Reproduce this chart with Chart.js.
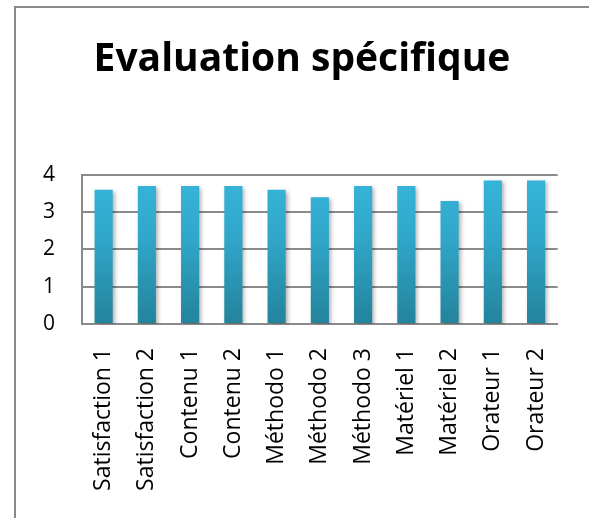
<!DOCTYPE html>
<html>
<head>
<meta charset="utf-8">
<script src="https://cdn.jsdelivr.net/npm/chart.js@4/dist/chart.umd.min.js"></script>
<style>
  html, body { margin: 0; padding: 0; background: #fff; overflow: hidden; }
  #frame {
    position: absolute; left: 14px; top: 6px; width: 600px; height: 540px;
    border-left: 2px solid #8a8a8a; border-top: 2px solid #8a8a8a;
  }
  canvas { position: absolute; left: 0; top: 0; }
</style>
</head>
<body>
<canvas id="myChart" width="589" height="518"></canvas>
<div id="frame"></div>
<script>
const chartTitle = "Evaluation spécifique";
const categories = ["Satisfaction 1", "Satisfaction 2", "Contenu 1", "Contenu 2", "Méthodo 1", "Méthodo 2", "Méthodo 3", "Matériel 1", "Matériel 2", "Orateur 1", "Orateur 2"];
const scores = [3.6, 3.7, 3.7, 3.7, 3.6, 3.4, 3.7, 3.7, 3.3, 3.85, 3.85];
const yTicks = [0, 1, 2, 3, 4];

// vertical gradient for the bars, like the office style
function barFill(context) {
    const area = context.chart.chartArea;
    if (!area) return "#2fa3c4";
    const g = context.chart.ctx.createLinearGradient(0, area.top, 0, area.bottom);
    g.addColorStop(0, "#36b5da");
    g.addColorStop(0.4, "#31a8cb");
    g.addColorStop(1, "#23839b");
    return g;
}

// soft shadow behind the bars
const barShadow = {
    id: "barShadow",
    beforeDatasetsDraw(chart) {
        const ctx = chart.ctx;
        ctx.save();
        ctx.shadowColor = "rgba(0,0,0,0.3)";
        ctx.shadowBlur = 4;
        ctx.shadowOffsetX = 2;
        ctx.shadowOffsetY = 2;
    },
    afterDatasetsDraw(chart) {
        chart.ctx.restore();
    }
};

// title is centred on the whole frame, not on the plot
const titleShift = {
    id: "titleShift",
    afterLayout(chart) {
        if (chart.titleBlock) {
            chart.titleBlock.left += 14;
            chart.titleBlock.right += 14;
        }
    }
};

let config = {
    type: "bar",
    data: {
        labels: categories,
        datasets: [{
            data: scores,
            backgroundColor: barFill,
            borderWidth: 0,
            categoryPercentage: 1,
            barPercentage: 0.42
        }]
    },
    options: {
        responsive: false,
        animation: false,
        layout: { padding: { left: 16, right: 29, top: 0, bottom: 0 } },
        plugins: {
            legend: { display: false },
            tooltip: { enabled: false },
            title: {
                display: true,
                text: chartTitle,
                color: "#000",
                font: { family: "Open Sans", size: 39, weight: "bold" },
                padding: { top: 36, bottom: 92 }
            }
        },
        scales: {
            x: {
                grid: { display: false, drawTicks: false },
                border: { display: true, color: "#8a8a8a", width: 2 },
                ticks: {
                    color: "#000",
                    font: { family: "Open Sans", size: 23 },
                    minRotation: 90,
                    maxRotation: 90,
                    padding: 24,
                    autoSkip: false
                },
                afterFit(scale) { scale.height = 194; }
            },
            y: {
                min: 0,
                max: 4,
                afterBuildTicks(scale) { scale.ticks = yTicks.map(v => ({ value: v })); },
                grid: { color: "#8a8a8a", lineWidth: 2, drawTicks: false },
                border: { display: true, color: "#8a8a8a", width: 2 },
                ticks: {
                    color: "#000",
                    font: { family: "Open Sans", size: 21 },
                    padding: 27
                },
                afterFit(scale) { scale.width = 66; }
            }
        }
    },
    plugins: [barShadow, titleShift]
};

let myChart = new Chart("myChart", config);
</script>
</body>
</html>
